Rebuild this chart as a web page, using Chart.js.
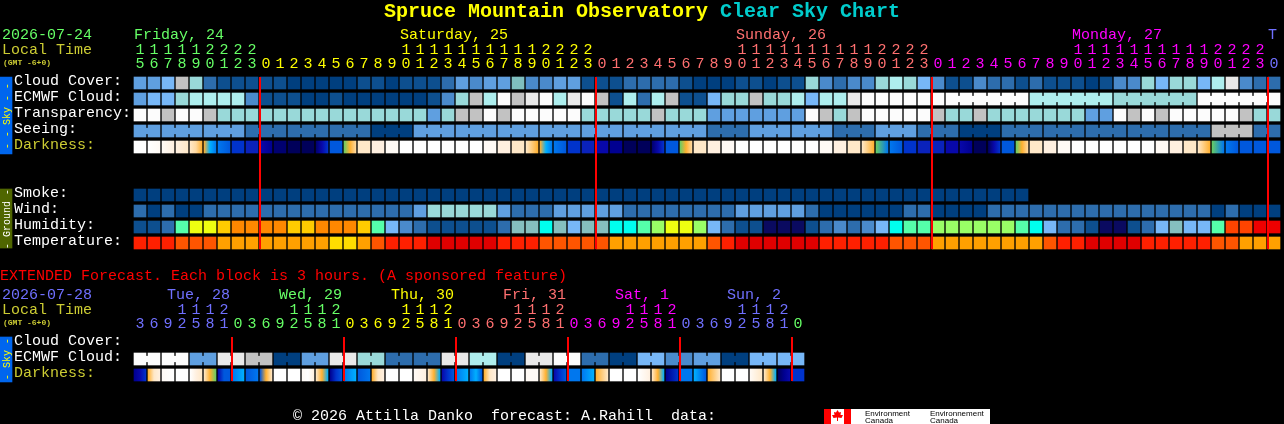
<!DOCTYPE html>
<html>
<head>
<meta charset="utf-8">
<title>Clear Sky Chart</title>
<script src="https://cdn.jsdelivr.net/npm/chart.js@4"></script>
<style>
html, body { margin: 0; padding: 0; background: #000; }
canvas { display: block; }
</style>
</head>
<body>
<canvas id="csc" width="1284" height="424"></canvas>
<script>
// hours along the top, one block per hour
const hoursTop = [15,16,17,18,19,20,21,22,23,
  0,1,2,3,4,5,6,7,8,9,10,11,12,13,14,15,16,17,18,19,20,21,22,23,
  0,1,2,3,4,5,6,7,8,9,10,11,12,13,14,15,16,17,18,19,20,21,22,23,
  0,1,2,3,4,5,6,7,8,9,10,11,12,13,14,15,16,17,18,19,20,21,22,23,
  0];
// extended forecast, one block per 3 hours
const hoursExt = [3,6,9,12,15,18,21,
  0,3,6,9,12,15,18,21, 0,3,6,9,12,15,18,21, 0,3,6,9,12,15,18,21,
  0,3,6,9,12,15,18,21, 0,3,6,9,12,15,18,21, 0];
const dayColsTop = [0,9,33,57,81];
const dayColsExt = [0,7,15,23,31,39,47];
const midnightTop = [9,33,57,81];
const midnightExt = [7,15,23,31,39,47];

const cloudCover = [4,4,5,8,6,2,1,1,1,1,1,0,0,0,0,0,1,1,0,1,1,
  1,2,4,3,4,4,11,3,3,4,4,1,1,1,2,2,2,2,1,0,0,0,1,1,0,1,1,6,3,2,3,
  3,6,7,6,5,3,1,1,3,2,2,1,2,1,1,1,0,1,3,3,6,5,6,6,5,7,9,3,2,2];
const ecmwfCloud = [4,5,5,6,7,7,7,7,3,1,1,1,0,0,1,0,0,0,0,0,0,
  1,3,6,8,7,10,8,9,10,7,9,10,8,1,7,2,7,8,1,1,5,6,6,8,6,6,7,5,7,7,9,
  10,10,10,10,10,10,10,10,10,10,10,10,7,7,7,7,7,7,6,6,6,6,6,6,10,10,10,10,10,10];
const transparency = [10,10,8,10,10,8,6,6,6,6,6,6,6,6,6,6,6,6,6,6,6,
  4,6,8,8,10,8,10,10,10,10,10,6,6,6,6,6,8,6,6,6,4,4,4,4,4,4,4,10,8,6,8,
  10,10,10,10,10,8,6,6,8,6,6,6,6,6,6,6,4,4,10,8,10,8,10,10,10,10,10,8,6,6];
const seeing = [4,4,4,4,4,4,4,4,2,2,2,2,2,2,2,2,2,0,0,0,4,4,4,
  4,4,4,4,4,4,4,4,4,4,4,4,4,4,4,4,4,4,2,2,2,4,4,4,4,4,4,2,2,2,
  4,4,4,2,2,2,0,0,0,2,2,2,2,2,2,2,2,2,2,2,2,2,2,2,8,8,8,2,2];
// sky colour levels across each block, left to right
const darkness = [[0],[0,1],[1,2],[2,3],[3,4,5],[5,7,8],[8,9],[10],[11],[12,13],[14],[15],[15],[14,12,10],[9],[6,5,4],[3],[2],[1],[0],[0],
  [0],[0],[0],[0],[1],[2],[3],[3,5],[5,7,8],[8,9],[10],[11],[12],[13],[15],[15],[14,12,10],[9],[6,5,4],[3],[2],[1],[0],[0],[0],[0],[0],[0],[1],[2],[3],
  [3,5],[6,8],[8,9],[10],[11],[11],[12],[12,13],[15],[15,12,10],[9],[6,5,4],[3],[2],[1],[0],[0],[0],[0],[0],[0],[1],[2],[3],[3,5],[6,8],[8,9],[9],[9],[9]];

const smoke = [0,0,0,0,0,0,0,0,0,0,0,0,0,0,0,0,0,0,0,0,0,0,0,0,0,0,0,0,0,0,0,0,
  0,0,0,0,0,0,0,0,0,0,0,0,0,0,0,0,0,0,0,0,0,0,0,0,0,0,0,0,0,0,0,0];
const wind = [2,0,2,0,0,2,2,2,2,2,2,2,2,2,2,2,2,2,2,2,4,
  6,6,6,6,6,4,2,2,2,4,4,4,4,4,2,2,2,2,2,2,2,2,4,4,4,4,4,2,0,0,0,
  0,0,0,2,2,0,0,0,0,2,2,2,2,2,2,2,2,2,2,2,2,2,2,2,2,0,2,0,0,0];
const humidity = [1,1,2,7,9,9,10,11,11,11,11,10,10,11,11,11,10,7,4,3,2,
  1,1,1,1,1,2,5,5,6,5,4,5,5,6,6,7,8,9,9,8,4,2,1,1,0,0,0,1,2,3,2,
  3,4,6,7,7,8,8,8,8,8,8,7,6,4,2,2,1,0,0,1,2,4,5,4,4,7,12,12,13,13];
const temperature = [1,1,1,2,2,2,3,3,3,3,3,3,3,3,4,4,3,2,1,1,1,
  0,0,0,0,0,1,1,1,2,2,2,2,2,3,3,3,3,3,3,3,2,1,0,0,0,0,0,0,1,1,1,
  1,1,2,2,2,3,3,3,3,3,3,3,3,2,1,1,0,0,0,0,1,1,1,1,1,2,2,3,3,3];

const ecmwfExt = [10,10,10,10,4,4,9,9,8,8,0,0,4,4,9,9,6,6,2,2,2,2,9,9,7,7,0,0,9,9,10,10,2,2,0,0,5,5,3,3,4,4,0,0,5,5,5,5];
const darknessExt = [[13,12,10],[5,3,2],[1,0],[0],[0,2,3],[3,5,6],[12,9,9],[8,7],[9,8],[9,5,3],[0],[0],[1,0,2],[3,5,7],[13,10,9],[8,7],
  [9,8],[5,3,2],[0],[0],[1,2],[3,5,7],[12,10,9],[8,7],[8,7,9],[5,3,2],[0],[0],[1],[3,5,7],[12,10,9],[8],
  [8,7],[5,3],[0],[0],[0,2],[3,5,7],[13,10],[8],[7,9],[5,3],[0],[0],[1,3],[3,5,7],[15,13,12],[10]];

const rowLabelsTop = ['Cloud Cover:','ECMWF Cloud:','Transparency:','Seeing:','Darkness:'];
const rowLabelsGround = ['Smoke:','Wind:','Humidity:','Temperature:'];
const rowLabelsExt = ['Cloud Cover:','ECMWF Cloud:','Darkness:'];
const dayLabelsTop = ['Friday, 24','Saturday, 25','Sunday, 26','Monday, 27','T'];
const dayLabelsExt = ['Tue, 28','Wed, 29','Thu, 30','Fri, 31','Sat, 1','Sun, 2'];

// palettes
const cloudColors = ['#003f7f','#0d4f8f','#2d6dad','#4a8acb','#5f9fe0','#77b7f7','#99d9d9','#aeeeee','#c2c2c2','#e9e9e9','#fcfcfc','#7fbfbf'];
const humidColors = ['#0a0a60','#0d4f8f','#2d6dad','#4a8acb','#77b7f7','#85bfbf','#00ffee','#55ffaa','#99ff66','#eeff11','#ffcc00','#ff8800','#ff4400','#ee0000'];
const tempColors = ['#e00000','#ff2000','#ff5500','#ffa000','#ffdd00'];
const darkColors = ['#ffffff','#fffaf5','#fff0e0','#ffe8c8','#ffd9a0','#ffb030','#66cc66','#00b0ff','#0077ee','#0058dd','#0033cc','#0a22bb','#0808aa','#000090','#000070','#00005a'];
const dayColorsTop = ['#66ff66','#ffff00','#ff7070','#ff00ff','#7070ff'];
const dayColorsExt = ['#7070ff','#66ff66','#ffff00','#ff7070','#ff00ff','#7070ff','#66ff66'];

const MONO = '"Liberation Mono", monospace';
const OLIVE = '#cccc33';
const CELL = 6 / 14; // middle of a 12px block in a 14px column
const ROW_H = 0.75;

function cellsOf(values, row) {
  return values.map((v, i) => ({ x: i + CELL, y: [row, row + ROW_H] }));
}

// one row of blocks
function rowSet(values, row, colors, axis) {
  return {
    type: 'bar', xAxisID: axis, order: 2, grouped: false, barThickness: 12,
    data: cellsOf(values, row),
    backgroundColor: c => colors[values[c.dataIndex]]
  };
}

// row of blocks that shade from left to right
function darkSet(levels, row, axis) {
  return {
    type: 'bar', xAxisID: axis, order: 2, grouped: false, barThickness: 12,
    data: cellsOf(levels, row),
    backgroundColor: c => {
      if (c.type !== 'data') return '#000000';
      const stops = levels[c.dataIndex];
      if (stops.length === 1) return darkColors[stops[0]];
      const left = 134 + 14 * c.dataIndex;
      const g = c.chart.ctx.createLinearGradient(left, 0, left + 12, 0);
      stops.forEach((s, n) => g.addColorStop(n / (stops.length - 1), darkColors[s]));
      return g;
    }
  };
}

// little bridges between blocks of the same forecast step
function linkSet(values, row, colors, axis, isJoined) {
  const idx = [];
  for (let i = 0; i < values.length - 1; i++) {
    if (values[i] === values[i + 1] && isJoined(i)) idx.push(i);
  }
  return {
    type: 'bar', xAxisID: axis, order: 2, grouped: false, barThickness: 2,
    data: idx.map(i => ({ x: i + 13 / 14, y: [row + 0.2, row + 0.55] })),
    backgroundColor: c => colors[values[idx[c.dataIndex]]]
  };
}

function redLine(col, from, to, axis) {
  return {
    type: 'line', xAxisID: axis, order: 1,
    data: [{ x: col, y: from }, { x: col, y: to }],
    borderColor: '#ff0000', borderWidth: 2, pointRadius: 0
  };
}

// side tab as a floating bar
function tabSet(from, to, color) {
  return {
    type: 'bar', xAxisID: 'x', order: 2, grouped: false, barThickness: 12,
    data: [{ x: -128 / 14, y: [from, to] }],
    backgroundColor: color
  };
}

function dayIndex(cols, col) {
  let d = 0;
  cols.forEach((c, n) => { if (col >= c) d = n; });
  return d;
}

function hourAxis(hours, cols, colors, yRow) {
  return {
    type: 'linear',
    offset: false,
    min: -134 / 14, max: 1150 / 14,
    position: { y: yRow },
    grid: { display: false, drawTicks: false },
    border: { display: false },
    afterBuildTicks: s => { s.ticks = hours.map((h, i) => ({ value: i + CELL })); },
    // the tick labels sit inside the plot, so they must not shrink it
    afterFit: s => { s.paddingLeft = 0; s.paddingRight = 0; s.paddingTop = 0; s.paddingBottom = 0; },
    ticks: {
      autoSkip: false, maxRotation: 0, minRotation: 0, padding: 0,
      font: { family: MONO, size: 15, lineHeight: '14.5px' },
      color: c => colors[dayIndex(cols, c.index)],
      callback: (v, i) => [hours[i] >= 10 ? String(Math.floor(hours[i] / 10)) : '', String(hours[i] % 10)]
    }
  };
}

const R = { cloud: 0, ecmwf: 1, transp: 2, seeing: 3, dark: 4, smoke: 7, wind: 8, hum: 9, temp: 10, extCloud: 16.25, extEcmwf: 17.25, extDark: 18.25 };

const datasets = [
  tabSet(0, 77 / 16, '#0066ee'),
  tabSet(7, 10.69, '#4f6600'),
  tabSet(R.extCloud, 19.06, '#0066ee'),
  rowSet(cloudCover, R.cloud, cloudColors, 'x'),
  rowSet(ecmwfCloud, R.ecmwf, cloudColors, 'x'),
  linkSet(ecmwfCloud, R.ecmwf, cloudColors, 'x', i => i >= 58 && (i - 57) % 6 !== 0),
  rowSet(transparency, R.transp, cloudColors, 'x'),
  rowSet(seeing, R.seeing, cloudColors, 'x'),
  linkSet(seeing, R.seeing, cloudColors, 'x', i => (i + 1) % 3 !== 2),
  darkSet(darkness, R.dark, 'x'),
  rowSet(smoke, R.smoke, cloudColors, 'x'),
  rowSet(wind, R.wind, cloudColors, 'x'),
  rowSet(humidity, R.hum, humidColors, 'x'),
  rowSet(temperature, R.temp, tempColors, 'x'),
  rowSet(ecmwfExt, R.extEcmwf, cloudColors, 'x2'),
  linkSet(ecmwfExt, R.extEcmwf, cloudColors, 'x2', i => i % 2 === 0),
  darkSet(darknessExt, R.extDark, 'x2')
];
midnightTop.forEach(c => datasets.push(redLine(c, 0, 10.75, 'x')));
midnightExt.forEach(c => datasets.push(redLine(c, R.extCloud, R.extDark + ROW_H, 'x2')));

// titles, row names, side tabs and the footer
const labelsPlugin = {
  id: 'cscLabels',
  afterDraw(chart) {
    const ctx = chart.ctx, sx = chart.scales.x, sy = chart.scales.y, sx2 = chart.scales.x2;
    const text = (s, x, y, color, font) => {
      ctx.font = font || ('15px ' + MONO);
      ctx.fillStyle = color;
      ctx.fillText(s, x, y);
    };
    ctx.save();
    ctx.textBaseline = 'alphabetic';
    ctx.textAlign = 'left';

    const bold = 'bold 20px ' + MONO;
    text('Spruce Mountain Observatory', 384, 17, '#ffff00', bold);
    text('Clear Sky Chart', 720, 17, '#00cccc', bold);

    text('2026-07-24', 2, 39, '#66ff66');
    text('Local Time', 2, 54, OLIVE);
    text('(GMT -6+0)', 3, 65, OLIVE, 'bold 8px ' + MONO);
    const topCols = [0, 19, 43, 67, 81];
    dayLabelsTop.forEach((s, i) => text(s, sx.getPixelForValue(topCols[i]), 39, dayColorsTop[i]));

    const rowText = (names, rows, colorOf) => names.forEach((s, i) => {
      text(s, 14, sy.getPixelForValue(rows[i]) + 8, colorOf(i));
    });
    rowText(rowLabelsTop, [R.cloud, R.ecmwf, R.transp, R.seeing, R.dark], i => i === 4 ? OLIVE : '#ffffff');
    rowText(rowLabelsGround, [R.smoke, R.wind, R.hum, R.temp], () => '#ffffff');
    rowText(rowLabelsExt, [R.extCloud, R.extEcmwf, R.extDark], i => i === 2 ? OLIVE : '#ffffff');

    text('EXTENDED Forecast. Each block is 3 hours. (A sponsored feature)', 0, 280, '#ff0000');
    text('2026-07-28', 2, 299, '#7070ff');
    text('Local Time', 2, 314, OLIVE);
    text('(GMT -6+0)', 3, 325, OLIVE, 'bold 8px ' + MONO);
    dayLabelsExt.forEach((s, i) => text(s, sx2.getPixelForValue(2.36 + 8 * i), 299, dayColorsExt[i]));

    // rotated words in the side tabs
    const sideText = (s, yMid, color) => {
      ctx.save();
      ctx.translate(9.5, yMid);
      ctx.rotate(-Math.PI / 2);
      ctx.textAlign = 'center';
      text(s, 0, 0, color, '10px ' + MONO);
      ctx.restore();
    };
    sideText('- - Sky - -', 116, '#ffff00');
    sideText('- Ground -', 219, '#ffffff');
    sideText('- Sky -', 359, '#ffff00');

    text('\u00a9 2026 Attilla Danko  forecast: A.Rahill  data:', 293, 420, '#ffffff');

    // Environment Canada logo
    ctx.fillStyle = '#ffffff';
    ctx.fillRect(824, 409, 166, 15);
    ctx.fillStyle = '#ff0000';
    ctx.fillRect(824, 409, 7, 15);
    ctx.fillRect(844, 409, 7, 15);
    ctx.beginPath();
    [[837.5,410],[839,412.5],[841,412],[840.5,415],[843,415],[841.5,418],[838,417.5],[838,421],[837,421],[837,417.5],[833.5,418],[832,415],[834.5,415],[834,412],[836,412.5]]
      .forEach((p, i) => i ? ctx.lineTo(p[0], p[1]) : ctx.moveTo(p[0], p[1]));
    ctx.closePath();
    ctx.fill();
    const small = '8px "Liberation Sans", sans-serif';
    text('Environment', 865, 416, '#000000', small);
    text('Canada', 865, 423, '#000000', small);
    text('Environnement', 930, 416, '#000000', small);
    text('Canada', 930, 423, '#000000', small);
    ctx.restore();
  }
};

new Chart(document.getElementById('csc'), {
  data: { datasets: datasets },
  plugins: [labelsPlugin],
  options: {
    responsive: false,
    animation: false,
    devicePixelRatio: 1,
    layout: { padding: 0 },
    plugins: { legend: { display: false }, tooltip: { enabled: false } },
    scales: {
      x: hourAxis(hoursTop, dayColsTop, dayColorsTop, -2.15),
      x2: hourAxis(hoursExt, dayColsExt, dayColorsExt, 14.1),
      y: { type: 'linear', display: false, reverse: true, min: -77 / 16, max: 347 / 16 }
    }
  }
});
</script>
</body>
</html>
